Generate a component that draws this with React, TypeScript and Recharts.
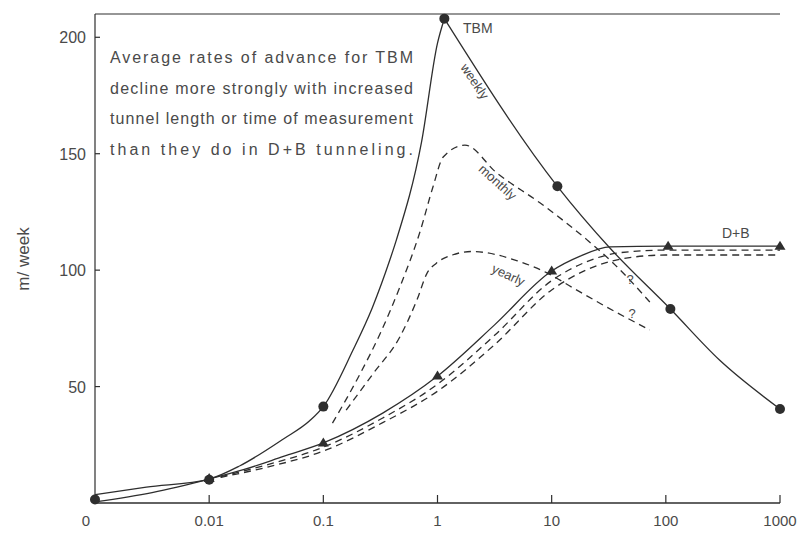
import { ComposedChart, Line, Scatter, XAxis, YAxis, ReferenceLine } from 'recharts'

const INK = '#2e2e2e'
const GREY = '#4a4a4a'
const FONT = '"Liberation Sans", Arial, sans-serif'

// x is the log position: 0 -> "0", 1 -> 0.01, 2 -> 0.1 ... 6 -> 1000
const xTicks = [0, 1, 2, 3, 4, 5, 6]
const xTickLabels = ['0', '0.01', '0.1', '1', '10', '100', '1000']
const yTicks = [50, 100, 150, 200]

// [x position, m/week]
const tbmWeeklyRise = [
  [0, 3.6], [0.45, 6.8], [1, 10.3], [1.27, 16], [1.65, 27.5], [1.88, 35.3], [2, 41.4],
  [2.26, 65.7], [2.43, 84], [2.58, 104], [2.64, 113], [2.86, 155], [3, 197.5], [3.06, 208],
]
const tbmWeeklyFall = [
  [3.06, 208], [4.05, 136], [4.51, 109.5], [5.04, 83.3], [5.47, 61.4], [6, 40.4],
]
const tbmWeeklyMarks = [
  [0, 1.5], [1, 10], [2, 41.4], [3.06, 208], [4.05, 136], [5.04, 83.3], [6, 40.4],
]
const tbmMonthly = [
  [2.08, 34.3], [2.32, 55.3], [2.5, 73], [2.67, 92.7], [2.85, 117], [2.96, 135.7],
  [3.05, 148.6], [3.24, 153.7], [3.52, 141.7], [3.9, 128.8], [4.31, 113], [4.54, 103], [4.86, 86.3],
]
const tbmYearly = [
  [2.2, 39.9], [2.44, 55.8], [2.67, 71.3], [2.82, 87.2], [2.91, 98.8], [2.99, 103],
  [3.13, 106.5], [3.3, 108], [3.7, 104], [3.96, 98.8], [4.19, 92.3], [4.48, 84.2], [4.86, 74.3],
]
const dbWeekly = [
  [0, 0.5], [0.5, 4.5], [1, 10.3], [1.3, 14.3], [1.65, 20], [2, 25.8], [2.52, 38.6],
  [3, 54.5], [3.5, 76.5], [4, 99.6], [4.25, 106], [4.51, 110], [5, 110.3], [6, 110.3],
]
const dbWeeklyMarks = [
  [1, 10.5], [2, 25.8], [3, 54.5], [4, 99.6], [5.02, 110.3], [6, 110.3],
]
const dbMonthly = [
  [1.1, 11.3], [1.5, 16.3], [2, 24], [2.52, 36.5], [3, 51], [3.5, 72], [4, 95.5],
  [4.3, 103.5], [4.6, 107.5], [5, 108.6], [6, 108.6],
]
const dbYearly = [
  [1.1, 11], [1.5, 15.3], [2, 22.3], [2.52, 34.5], [3, 48], [3.5, 68], [4, 91.5],
  [4.3, 100], [4.7, 105.5], [5, 106.5], [6, 106.5],
]

const pts = (rows: number[][]) => rows.map(([u, v]) => ({ u, v }))

const noteLines = [
  'Average rates of advance for TBM',
  'decline more strongly with increased',
  'tunnel length or time of measurement',
  'than they do in D+B tunneling.',
]

function XTick({ x, y, payload }: any) {
  return (
    <g>
      <line x1={x} y1={y} x2={x} y2={y - 8} stroke={INK} strokeWidth={1.2} />
      <text
        x={payload.value === 0 ? x - 9 : x}
        y={y + 23}
        textAnchor="middle"
        fontSize={15}
        fill={GREY}
        fontFamily={FONT}
      >
        {xTickLabels[payload.value]}
      </text>
    </g>
  )
}

function YTick({ x, y, payload }: any) {
  return (
    <g>
      <line x1={x} y1={y} x2={x + 5} y2={y} stroke={INK} strokeWidth={1.2} />
      <text x={x - 9} y={y + 6} textAnchor="end" fontSize={16} fill={GREY} fontFamily={FONT}>
        {payload.value}
      </text>
    </g>
  )
}

function RightTick({ x, y }: any) {
  return <line x1={x} y1={y} x2={x - 8} y2={y} stroke={INK} strokeWidth={1.2} />
}

const Dot = (p: any) => <circle cx={p.cx} cy={p.cy} r={5} fill={INK} />
const Tri = (p: any) => (
  <polygon
    points={`${p.cx},${p.cy - 5.5} ${p.cx + 5.5},${p.cy + 3.5} ${p.cx - 5.5},${p.cy + 3.5}`}
    fill={INK}
  />
)

const lineProps = {
  dataKey: 'v',
  type: 'monotone' as const,
  stroke: INK,
  strokeWidth: 1.3,
  dot: false,
  activeDot: false,
  isAnimationActive: false,
}
const dashed = { ...lineProps, strokeDasharray: '7 5' }

const label = { fill: GREY, fontFamily: FONT }

export default function App() {
  return (
    <div style={{ position: 'absolute', left: 0, top: 0, width: 805, height: 539, background: '#fff' }}>
      <ComposedChart width={805} height={539} margin={{ top: 14, right: 25, bottom: 6, left: 35 }}>
        <XAxis
          dataKey="u"
          type="number"
          domain={[0, 6]}
          ticks={xTicks}
          height={30}
          tickSize={0}
          tickMargin={0}
          tickLine={false}
          tick={<XTick />}
          axisLine={{ stroke: INK, strokeWidth: 1.4 }}
        />
        <YAxis
          dataKey="v"
          type="number"
          domain={[0, 210]}
          ticks={yTicks}
          width={60}
          tickSize={0}
          tickMargin={0}
          tickLine={false}
          tick={<YTick />}
          axisLine={{ stroke: INK, strokeWidth: 1.2 }}
        />
        <YAxis
          yAxisId="r"
          orientation="right"
          type="number"
          domain={[0, 210]}
          ticks={yTicks}
          width={0}
          tickSize={0}
          tickMargin={0}
          tickLine={false}
          tick={<RightTick />}
          axisLine={{ stroke: INK, strokeWidth: 1.2 }}
        />
        <ReferenceLine y={210} stroke={INK} strokeWidth={1.2} />

        <Line {...lineProps} data={pts(dbWeekly)} />
        <Line {...dashed} data={pts(dbMonthly)} />
        <Line {...dashed} data={pts(dbYearly)} />
        <Line {...lineProps} data={pts(tbmWeeklyRise)} />
        <Line {...lineProps} data={pts(tbmWeeklyFall)} />
        <Line {...dashed} data={pts(tbmMonthly)} />
        <Line {...dashed} data={pts(tbmYearly)} />

        <Scatter data={pts(tbmWeeklyMarks)} dataKey="v" shape={Dot} isAnimationActive={false} />
        <Scatter data={pts(dbWeeklyMarks)} dataKey="v" shape={Tri} isAnimationActive={false} />
      </ComposedChart>

      <svg
        width={805}
        height={539}
        style={{ position: 'absolute', left: 0, top: 0, pointerEvents: 'none' }}
      >
        {noteLines.map((t, i) => (
          <text
            key={i}
            {...label}
            x={110}
            y={63 + i * 30.5}
            fontSize={16}
            textLength={303}
            lengthAdjust="spacing"
          >
            {t}
          </text>
        ))}
        <text {...label} x={29} y={259} fontSize={17} textAnchor="middle" transform="rotate(-90 29 259)">
          m/ week
        </text>
        <text {...label} x={463} y={33} fontSize={14}>TBM</text>
        <text {...label} x={474} y={82} fontSize={13} textAnchor="middle" dominantBaseline="middle" transform="rotate(56 474 82)">
          weekly
        </text>
        <text {...label} x={497} y={183} fontSize={13} textAnchor="middle" dominantBaseline="middle" transform="rotate(42 497 183)">
          monthly
        </text>
        <text {...label} x={508} y={276} fontSize={13} textAnchor="middle" dominantBaseline="middle" transform="rotate(25 508 276)">
          yearly
        </text>
        <text {...label} x={722} y={238} fontSize={14}>D+B</text>
        <text {...label} x={630} y={284} fontSize={13} textAnchor="middle">?</text>
        <text {...label} x={632} y={318} fontSize={13} textAnchor="middle">?</text>
      </svg>
    </div>
  )
}
